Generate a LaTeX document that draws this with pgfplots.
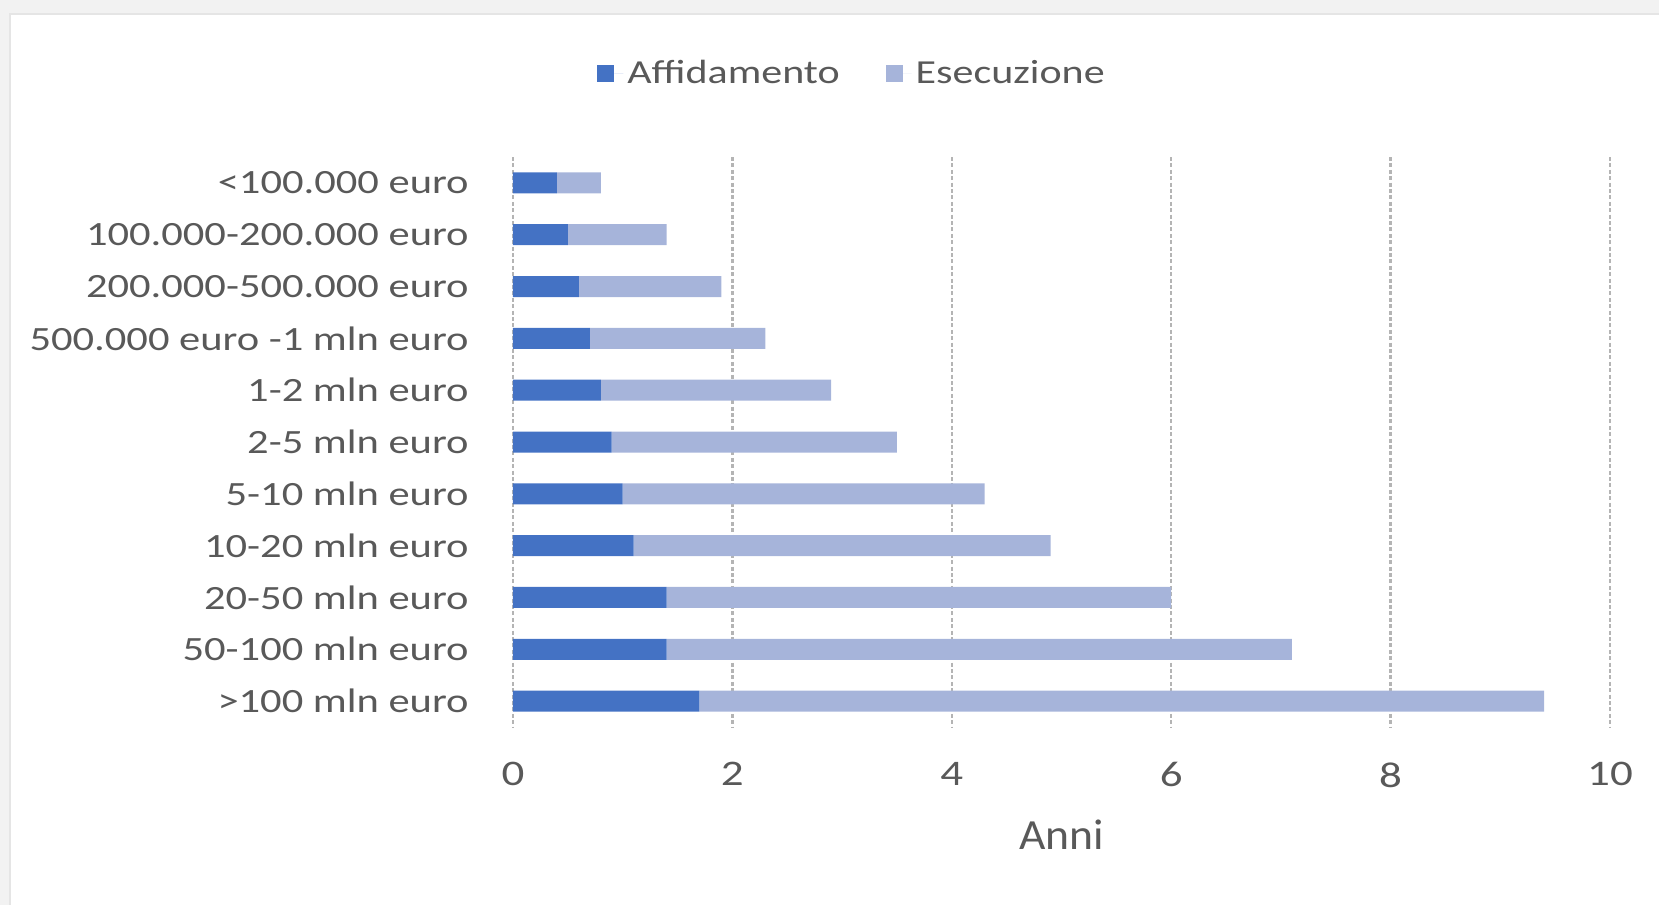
\documentclass[border=0pt]{standalone}
\usepackage{fontspec}
\setmainfont{Carlito}[FakeStretch=1.25]
\newfontfamily\annifont{Carlito}[FakeStretch=1.06]
\usepackage{pgfplots}
\pgfplotsset{compat=1.18}
\definecolor{affid}{RGB}{68,114,196}
\definecolor{esec}{RGB}{166,180,218}
\definecolor{txt}{RGB}{89,89,89}
\definecolor{grd}{RGB}{180,180,180}

\begin{document}
\begin{tikzpicture}
\path[use as bounding box] (-256.5pt,-89pt) rectangle (573pt,363.5pt);
% screenshot frame
\fill[black!5] (-256.5pt,356.5pt) rectangle (573pt,363.5pt);
\fill[black!5] (-256.5pt,-89pt) rectangle (-251.5pt,363.5pt);
\draw[black!10, line width=1pt] (-251.5pt,-89pt) -- (-251.5pt,356.5pt) -- (573pt,356.5pt);

\begin{axis}[
    at={(0,0)}, anchor=south west,
    width=548.5pt, height=285pt, scale only axis,
    xbar stacked, bar width=10.5pt,
    xmin=0, xmax=10, ymin=-0.5, ymax=10.5, y dir=reverse,
    xtick={0,2,...,10}, ytick={0,...,10},
    yticklabels={{<100.000 euro},{100.000-200.000 euro},{200.000-500.000 euro},
                 {500.000 euro -1 mln euro},{1-2 mln euro},{2-5 mln euro},
                 {5-10 mln euro},{10-20 mln euro},{20-50 mln euro},
                 {50-100 mln euro},{>100 mln euro}},
    /pgf/number format/assume math mode=true,
    axis line style={draw=none},
    major tick length=0pt,
    xmajorgrids,
    major grid style={grd, line width=1.2pt, dash pattern=on 2pt off 1.2pt},
    yticklabel style={font=\fontsize{17}{20}\selectfont, text=txt,
                      anchor=east, inner sep=0pt, xshift=-22pt},
    xticklabel style={font=\fontsize{18}{20}\selectfont, text=txt,
                      anchor=north, inner sep=0pt, yshift=-17.5pt},
    xlabel={Anni},
    xlabel style={font=\annifont\fontsize{21.5}{24}\selectfont, text=txt,
                  inner sep=0pt, at={(axis description cs:0.5,0)},
                  anchor=north, yshift=-46.5pt},
    legend style={at={(0.31,1.146)}, anchor=center, draw=none, fill=none,
                  legend columns=-1, font=\fontsize{16.8}{19}\selectfont,
                  text=txt,
                  /tikz/every even column/.append style={column sep=21pt}},
    legend image code/.code={
        \fill[#1] (0pt,-4.25pt) rectangle (8.5pt,4.25pt);
        \path (8.5pt,0pt) -- (13pt,0pt);},
]
\addplot[fill=affid, draw=none] coordinates {
    (0.4,0) (0.5,1) (0.6,2) (0.7,3) (0.8,4) (0.9,5)
    (1.0,6) (1.1,7) (1.4,8) (1.4,9) (1.7,10)
};
\addplot[fill=esec, draw=none] coordinates {
    (0.4,0) (0.9,1) (1.3,2) (1.6,3) (2.1,4) (2.6,5)
    (3.3,6) (3.8,7) (4.6,8) (5.7,9) (7.7,10)
};
\legend{Affidamento, Esecuzione}
\end{axis}
\end{tikzpicture}
\end{document}
